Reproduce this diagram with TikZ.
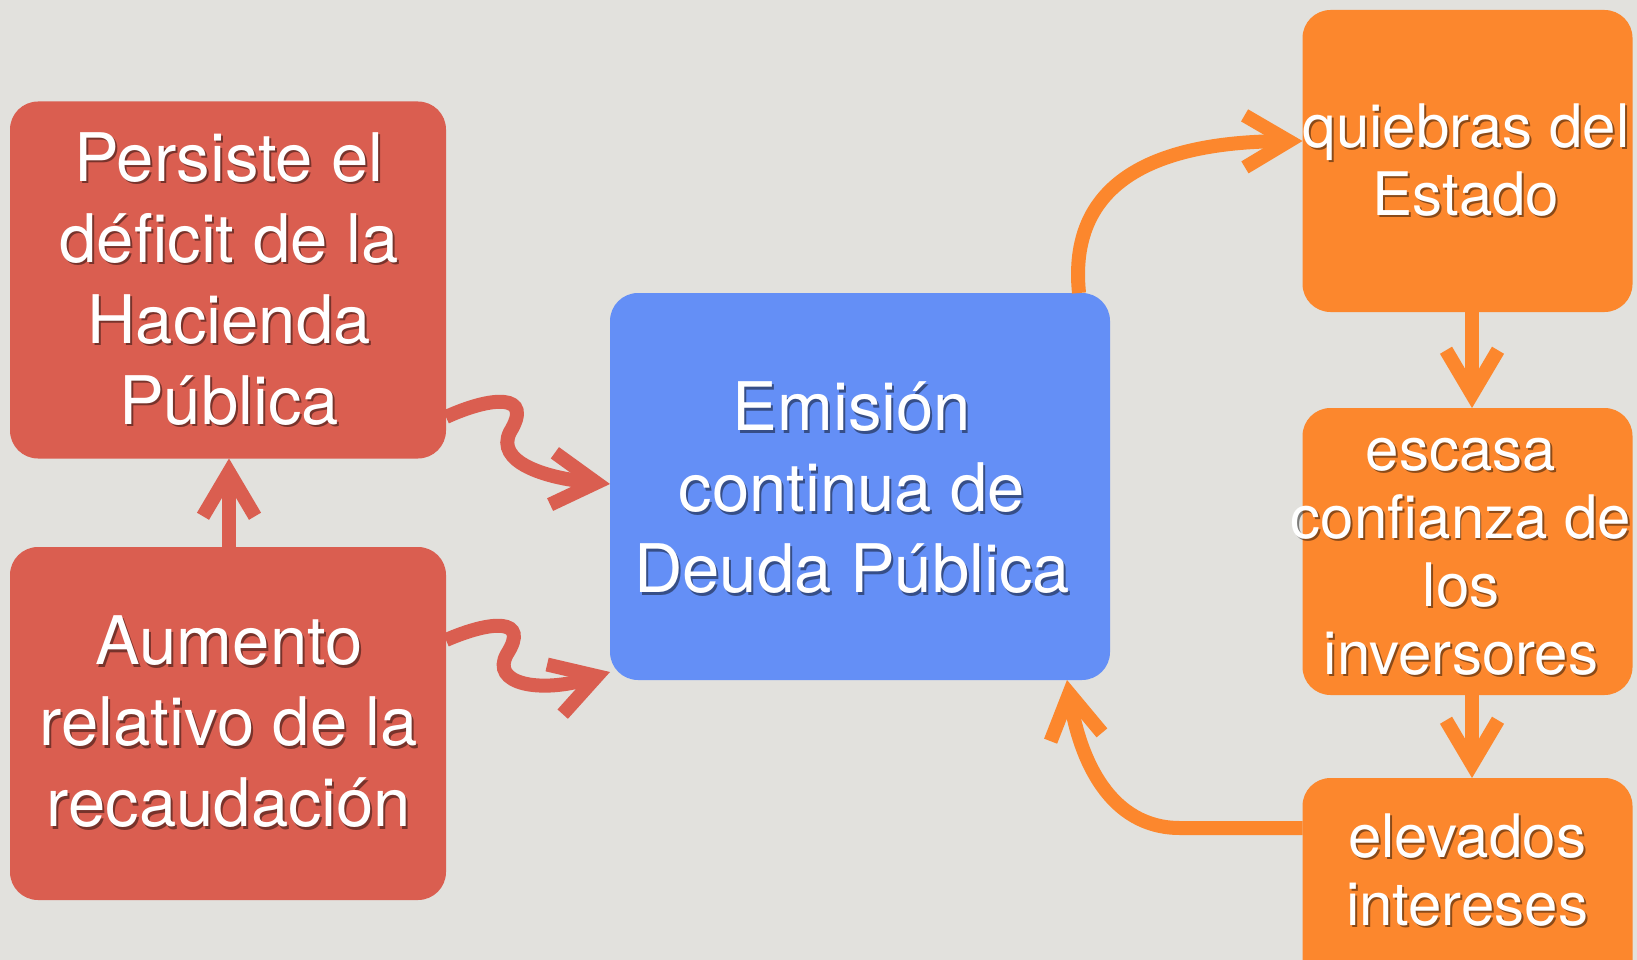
\documentclass[tikz,border=0pt]{standalone}
\usepackage{fontspec}
\setmainfont{TeX Gyre Heros}
\usetikzlibrary{arrows.meta,calc}
\definecolor{bg}{RGB}{226,225,221}
\definecolor{boxred}{RGB}{218,94,80}
\definecolor{boxblue}{RGB}{100,143,246}
\definecolor{boxorange}{RGB}{252,135,45}
\tikzset{
  card/.style={rectangle, rounded corners=28pt, inner sep=0pt, outer sep=0pt},
  redcard/.style={card, fill=boxred},
  bluecard/.style={card, fill=boxblue},
  orangecard/.style={card, fill=boxorange},
  bigtxt/.style={align=center, inner sep=0pt, font=\fontsize{67}{81}\selectfont},
  smalltxt/.style={align=center, inner sep=0pt, font=\fontsize{60}{68}\selectfont},
  shade/.style={text=black, text opacity=0.45},
  lbl/.style={text=white},
  link/.style={line width=14pt, line cap=butt, -{Straight Barb[length=44pt,width=52pt]}},
  redlink/.style={link, draw=boxred},
  orangelink/.style={link, draw=boxorange},
}
\newcommand\cardtext[4]{%
  \node[#2, shade] (#1-shadow) at ([shift={(2pt,-2.5pt)}]#3) {#4};
  \node[#2, lbl] (#1) at (#3) {#4};}
\newcommand\st{\rule{0pt}{.72em}}
\begin{document}
\begin{tikzpicture}[x=1pt,y=-1pt]
\useasboundingbox (0,0) rectangle (1637,960);
\clip (0,0) rectangle (1637,960);
\fill[bg] (0,0) rectangle (1637,960);

% boxes
\node[redcard, minimum width=436pt, minimum height=357pt] (A) at (228,280) {};
\node[redcard, minimum width=436pt, minimum height=353pt] (B) at (228,723.5) {};
\node[bluecard, minimum width=500pt, minimum height=387pt] (blue) at (860,486.5) {};
\node[orangecard, minimum width=330pt, minimum height=302pt] (Q) at (1467.5,161) {};
\node[orangecard, minimum width=330pt, minimum height=287pt] (E) at (1467.5,551.5) {};
\node[orangecard, minimum width=330pt, minimum height=224pt] (I) at (1467.5,890) {};

% texts
\cardtext{At}{bigtxt}{229,279}{\st Persiste el\\déficit de la\\Hacienda\\Pública}
\cardtext{Bt}{bigtxt}{229,722}{\st Aumento\\relativo de la\\recaudación}
\cardtext{blt}{bigtxt}{852,488}{\st Emisión\\continua de\\Deuda Pública}
\cardtext{Qt}{smalltxt}{1466,160}{\st quiebras del\\Estado}
\cardtext{Et}{smalltxt}{1461,551}{\st escasa\\confianza de\\los\\inversores}
\cardtext{It}{smalltxt}{1467,870}{\st elevados\\intereses}

% connectors
\draw[redlink] (B.north -| 229,0) -- (A.south -| 229,0);
\draw[redlink] (A.east |- 0,417) .. controls (492,396) and (534,393) .. (510,432)
  .. controls (495,462) and (545,478) .. (blue.west |- 0,484);
\draw[redlink] (B.east |- 0,640) .. controls (492,620) and (530,618) .. (507,654)
  .. controls (490,684) and (540,694) .. (blue.west |- 0,672);
\draw[orangelink] (blue.north -| 1079,0) .. controls (1068,185) and (1150,142) .. (Q.west |- 0,141);
\draw[orangelink] (Q.south -| 1472,0) -- (E.north -| 1472,0);
\draw[orangelink] (E.south -| 1472,0) -- (I.north -| 1472,0);
\draw[orangelink] (I.west |- 0,828) -- (1180,828) .. controls (1110,828) and (1080,760) .. (blue.south -| 1067,0);
\end{tikzpicture}
\end{document}
